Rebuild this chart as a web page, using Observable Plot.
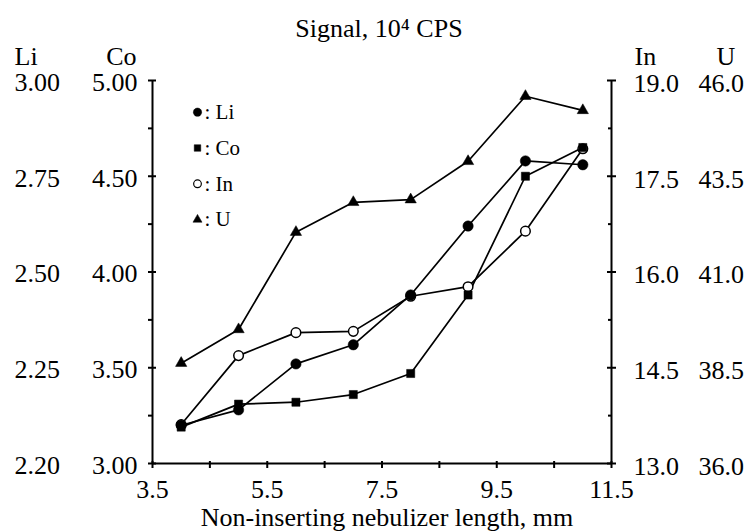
<!DOCTYPE html>
<html><head><meta charset="utf-8">
<script src="https://cdn.jsdelivr.net/npm/d3@7"></script>
<script src="https://cdn.jsdelivr.net/npm/@observablehq/plot@0.6"></script>
<style>
html,body{margin:0;padding:0;background:#fff;}
#chart svg{display:block;}
</style></head><body><div id="chart"></div>
<script>
// Non-inserting nebulizer length, mm
const lengths = [4, 5, 6, 7, 8, 9, 10, 11];
// Signal, 10^4 CPS
const liSignal = [2.10, 2.14, 2.26, 2.31, 2.44, 2.62, 2.79, 2.78];
const coSignal = [3.19, 3.31, 3.32, 3.36, 3.47, 3.88, 4.50, 4.65];
const inSignal = [13.61, 14.69, 15.05, 15.07, 15.62, 15.77, 16.64, 17.93];
const uSignal  = [38.62, 39.50, 42.04, 42.82, 42.89, 43.89, 45.59, 45.22];

// axis ranges (bottom, top) of each element's own axis
const liRange = [2.0, 3.0];
const coRange = [3.0, 5.0];
const inRange = [13.0, 19.0];
const uRange  = [36.0, 46.0];

// tick labels as printed (bottom to top)
const liTickLabels = ["2.20", "2.25", "2.50", "2.75", "3.00"];
const coTickLabels = ["3.00", "3.50", "4.00", "4.50", "5.00"];
const inTickLabels = ["13.0", "14.5", "16.0", "17.5", "19.0"];
const uTickLabels  = ["36.0", "38.5", "41.0", "43.5", "46.0"];
const xTickLabels  = [3.5, 5.5, 7.5, 9.5, 11.5];

const seriesNames = ["Li", "Co", "In", "U"];

const series = [
  {name: "In", values: inSignal, range: inRange, symbol: "circle", fill: "white", r: 4.8},
  {name: "Co", values: coSignal, range: coRange, symbol: "square", fill: "black", r: 4.6},
  {name: "Li", values: liSignal, range: liRange, symbol: "circle", fill: "black", r: 5.2},
  {name: "U",  values: uSignal,  range: uRange,  symbol: "triangle", fill: "black", r: 4.2}
];
const norm = (v, [lo, hi]) => (v - lo) / (hi - lo);
const rows = series.flatMap(s => s.values.map((v, i) => ({
  name: s.name, length: lengths[i], value: v, level: norm(v, s.range)
})));

const nT = coTickLabels.length;
const majorY = coTickLabels.map((d, i) => i / (nT - 1));
const minorY = majorY.slice(1).map(v => v - 0.5 / (nT - 1));

const FONT = 26;
const marks = [];

// frame lines
marks.push(Plot.ruleX([xTickLabels[0], xTickLabels[xTickLabels.length - 1]], {stroke: "black", strokeWidth: 2}));
marks.push(Plot.ruleY([0], {stroke: "black", strokeWidth: 2}));

const noText = () => "";
// left ticks
marks.push(Plot.axisY({anchor: "left", ticks: majorY, tickSize: 8, dx: 4, tickFormat: noText, label: null, strokeWidth: 2}));
marks.push(Plot.axisY({anchor: "left", ticks: minorY, tickSize: 4, tickFormat: noText, label: null, strokeWidth: 2}));
// right ticks
marks.push(Plot.axisY({anchor: "right", ticks: majorY, tickSize: 9, dx: -5, tickFormat: noText, label: null, strokeWidth: 2}));
marks.push(Plot.axisY({anchor: "right", ticks: minorY, tickSize: 4, dx: -4, tickFormat: noText, label: null, strokeWidth: 2}));
// bottom ticks
marks.push(Plot.axisX({anchor: "bottom", ticks: d3.range(3.5, 11.6, 1), tickSize: 7, dy: -2, tickFormat: noText, label: null, strokeWidth: 2}));

// tick labels
const txt = {fontSize: FONT, fill: "black", lineAnchor: "middle"};
marks.push(Plot.text(liTickLabels, {...txt, y: (d, i) => majorY[i], text: d => d, frameAnchor: "left", textAnchor: "start", dx: -138, dy: 2}));
marks.push(Plot.text(coTickLabels, {...txt, y: (d, i) => majorY[i], text: d => d, frameAnchor: "left", textAnchor: "end", dx: -15, dy: 2}));
marks.push(Plot.text(inTickLabels, {...txt, y: (d, i) => majorY[i], text: d => d, frameAnchor: "right", textAnchor: "start", dx: 22, dy: 3}));
marks.push(Plot.text(uTickLabels,  {...txt, y: (d, i) => majorY[i], text: d => d, frameAnchor: "right", textAnchor: "start", dx: 87, dy: 3}));
marks.push(Plot.text(xTickLabels, {fontSize: FONT, fill: "black", x: d => d, text: d => d.toFixed(1), frameAnchor: "bottom", lineAnchor: "top", dy: 16}));

// axis headers
const head = {fontSize: FONT, fill: "black", lineAnchor: "bottom", dy: -16};
marks.push(Plot.text(["Li"], {...head, text: d => d, frameAnchor: "top-left", textAnchor: "start", dx: -138}));
marks.push(Plot.text(["Co"], {...head, text: d => d, frameAnchor: "top-left", textAnchor: "end", dx: -16}));
marks.push(Plot.text(["In"], {...head, text: d => d, frameAnchor: "top-right", textAnchor: "start", dx: 23}));
marks.push(Plot.text(["U"],  {...head, text: d => d, frameAnchor: "top-right", textAnchor: "start", dx: 105}));

// title and x label
marks.push(Plot.text(["Signal, 10\u2074 CPS"], {text: d => d, fontSize: FONT, fill: "black", frameAnchor: "top", lineAnchor: "bottom", dy: -44, dx: -3}));
marks.push(Plot.text(["Non-inserting nebulizer length, mm"], {text: d => d, fontSize: FONT, fill: "black", frameAnchor: "bottom", lineAnchor: "bottom", dy: 62, dx: 5}));

// lines
for (const s of series) {
  marks.push(Plot.line(rows.filter(r => r.name === s.name), {x: "length", y: "level", stroke: "black", strokeWidth: 1.7}));
}
// markers
for (const s of series) {
  marks.push(Plot.dot(rows.filter(r => r.name === s.name), {
    x: "length", y: "level", symbol: s.symbol, r: s.r, fill: s.fill,
    stroke: "black", strokeWidth: s.fill === "white" ? 1.5 : 0.5
  }));
}

// legend
seriesNames.forEach((name, i) => {
  const s = series.find(d => d.name === name);
  marks.push(Plot.dot([name], {frameAnchor: "top-left", dx: 45, dy: 31.7 + i * 35.8,
    symbol: s.symbol, r: s.r * 0.8, fill: s.fill, stroke: "black", strokeWidth: s.fill === "white" ? 1.2 : 0.5}));
  marks.push(Plot.text([name], {frameAnchor: "top-left", dx: 52, dy: 31.7 + i * 35.8, text: d => ": " + d,
    textAnchor: "start", lineAnchor: "middle", fontSize: 21, fill: "black"}));
});

const chart = Plot.plot({
  width: 747, height: 531,
  marginLeft: 152, marginRight: 136, marginTop: 80, marginBottom: 68,
  x: {domain: [3.5, 11.5]},
  y: {domain: [0, 1]},
  style: {fontFamily: "'Liberation Serif', 'Times New Roman', serif", background: "white", color: "black"},
  marks
});
document.getElementById("chart").appendChild(chart);
</script></body></html>
